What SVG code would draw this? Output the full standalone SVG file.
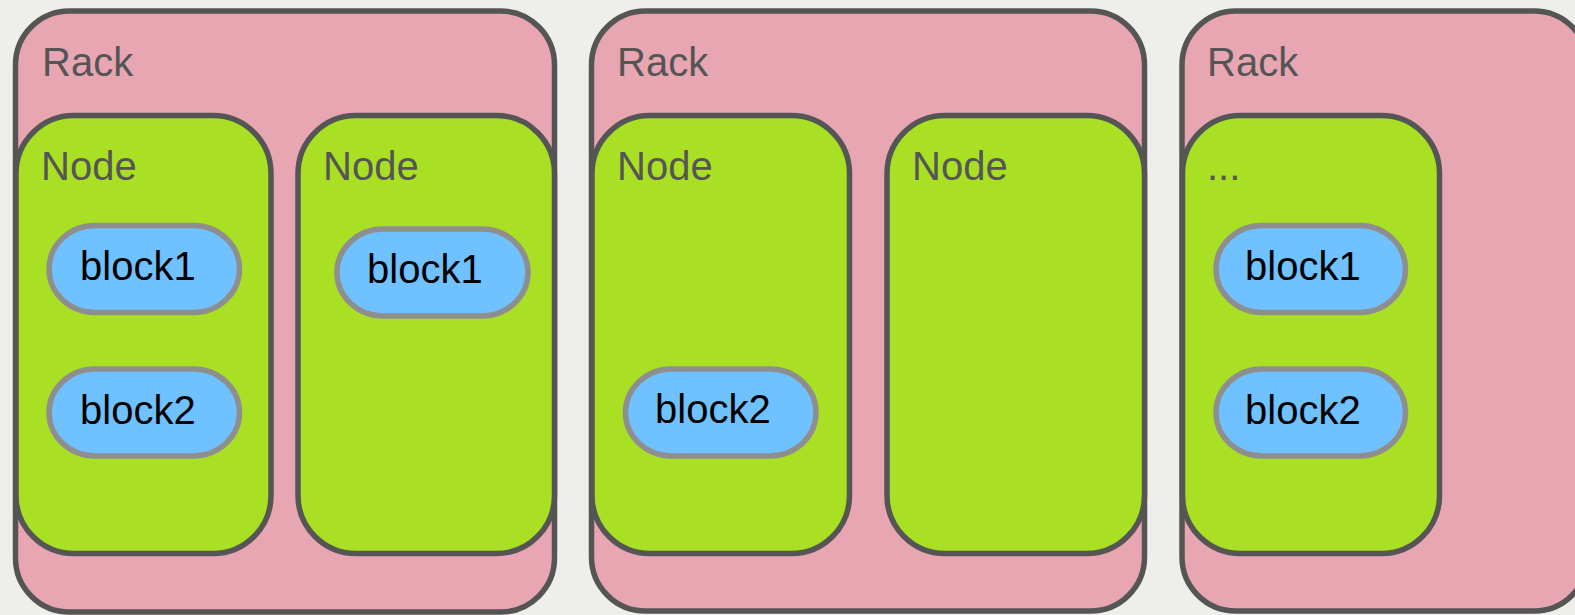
<svg xmlns="http://www.w3.org/2000/svg" width="1575" height="615" viewBox="0 0 1575 615">
  <style>
    .rack { fill: #e7a6b2; stroke: #555555; stroke-width: 5.5; }
    .node { fill: #a9e024; stroke: #555555; stroke-width: 5.5; }
    .block { fill: #6fc1ff; stroke: #8e8e8e; stroke-width: 5.5; }
    .label { font-family: "Liberation Sans", Arial, sans-serif; font-size: 40px; fill: #555555; }
    .btext { font-family: "Liberation Sans", Arial, sans-serif; font-size: 40px; fill: #000000; }
  </style>
  <rect x="0" y="0" width="1575" height="615" fill="#eeeeeb"/>

  <!-- Rack 1 -->
  <g id="rack1">
    <rect class="rack" x="15.5" y="11" width="539" height="601" rx="54" ry="54"/>
    <text class="label" x="42" y="76">Rack</text>
    <g id="rack1-node1">
      <rect class="node" x="16" y="115.5" width="255" height="438" rx="58" ry="58"/>
      <text class="label" x="41" y="180">Node</text>
      <g id="rack1-node1-block1">
        <rect class="block" x="49" y="225.5" width="190.5" height="87" rx="46" ry="43.5"/>
        <text class="btext" x="80" y="280">block1</text>
      </g>
      <g id="rack1-node1-block2">
        <rect class="block" x="49" y="369" width="190.5" height="87" rx="46" ry="43.5"/>
        <text class="btext" x="80" y="424">block2</text>
      </g>
    </g>
    <g id="rack1-node2">
      <rect class="node" x="298" y="115.5" width="256.5" height="438" rx="58" ry="58"/>
      <text class="label" x="323" y="180">Node</text>
      <g id="rack1-node2-block1">
        <rect class="block" x="337" y="229" width="191" height="87" rx="46" ry="43.5"/>
        <text class="btext" x="367" y="283">block1</text>
      </g>
    </g>
  </g>

  <!-- Rack 2 -->
  <g id="rack2">
    <rect class="rack" x="591.5" y="11" width="553" height="600" rx="54" ry="54"/>
    <text class="label" x="617" y="76">Rack</text>
    <g id="rack2-node1">
      <rect class="node" x="592" y="115.5" width="257.5" height="438" rx="58" ry="58"/>
      <text class="label" x="617" y="180">Node</text>
      <g id="rack2-node1-block2">
        <rect class="block" x="625.5" y="369" width="190.5" height="87" rx="46" ry="43.5"/>
        <text class="btext" x="655" y="423">block2</text>
      </g>
    </g>
    <g id="rack2-node2">
      <rect class="node" x="887" y="115.5" width="257.5" height="438" rx="58" ry="58"/>
      <text class="label" x="912" y="180">Node</text>
    </g>
  </g>

  <!-- Rack 3 (runs past the right edge) -->
  <g id="rack3">
    <rect class="rack" x="1182" y="11" width="406" height="600" rx="54" ry="54"/>
    <text class="label" x="1207" y="76">Rack</text>
    <g id="rack3-node1">
      <rect class="node" x="1182.5" y="115.5" width="257" height="438" rx="58" ry="58"/>
      <text class="label" x="1207" y="180">...</text>
      <g id="rack3-node1-block1">
        <rect class="block" x="1216" y="225.5" width="189.5" height="87" rx="46" ry="43.5"/>
        <text class="btext" x="1245" y="280">block1</text>
      </g>
      <g id="rack3-node1-block2">
        <rect class="block" x="1216" y="369" width="189.5" height="87" rx="46" ry="43.5"/>
        <text class="btext" x="1245" y="424">block2</text>
      </g>
    </g>
  </g>

  <!-- no connectors in this layout -->
  <g id="connectors"/>
</svg>
